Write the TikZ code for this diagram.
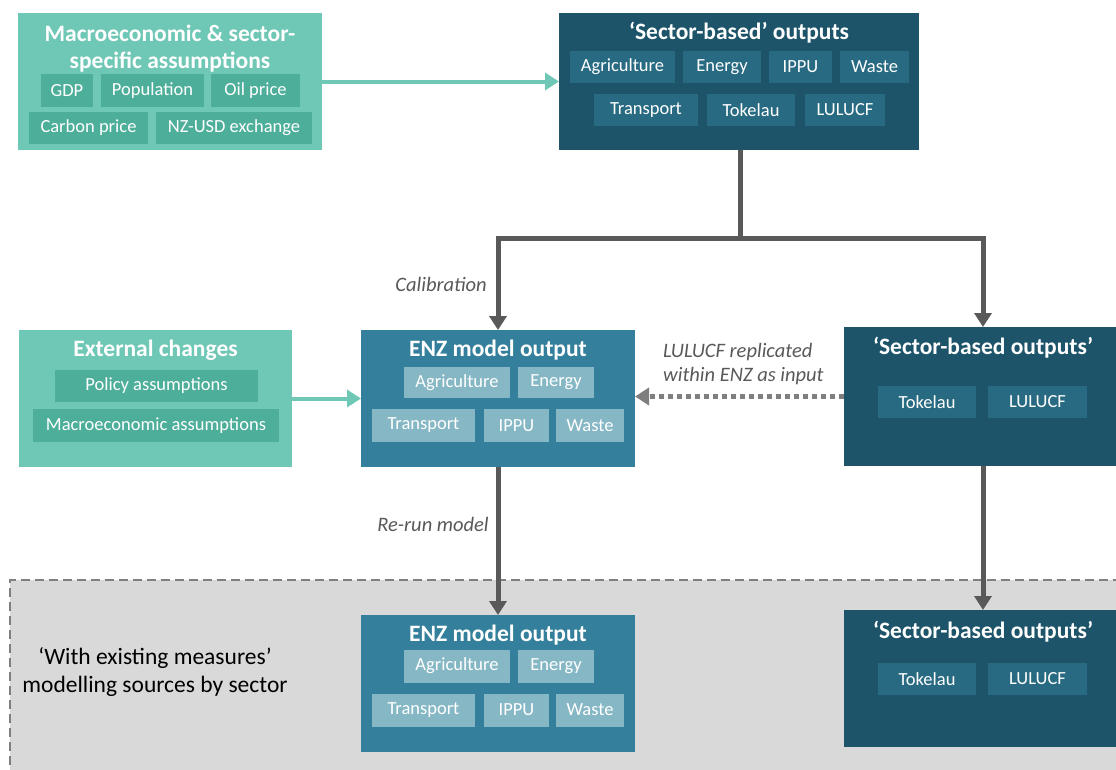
\documentclass[tikz,border=0pt]{standalone}
\usepackage{fontspec}
\setmainfont{Carlito}
\usetikzlibrary{arrows.meta}
\definecolor{tealbox}{HTML}{6FC7B5}
\definecolor{tealsub}{HTML}{4DAE9A}
\definecolor{navybox}{HTML}{1D5469}
\definecolor{navysub}{HTML}{286A82}
\definecolor{enzbox}{HTML}{347F9B}
\definecolor{enzsub}{HTML}{86B7C5}
\definecolor{conngray}{HTML}{595959}
\definecolor{dotgray}{HTML}{7F7F7F}
\definecolor{regionfill}{HTML}{D9D9D9}
\tikzset{
  bigbox/.style={inner sep=0pt, outer sep=0pt},
  subbox/.style={inner sep=0pt, outer sep=0pt, text=white, font=\fontsize{18.5}{22}\selectfont, minimum height=32},
  titletxt/.style={text=white, font=\bfseries\fontsize{23.5}{27}\selectfont, align=center, inner sep=0pt},
  itlabel/.style={text=conngray, font=\itshape\fontsize{20.5}{24}\selectfont, inner sep=0pt},
  tealarrow/.style={draw=tealbox, line width=4pt, -{Triangle[length=14pt,width=17pt]}},
  grayline/.style={draw=conngray, line width=5pt},
  grayarrow/.style={draw=conngray, line width=5pt, -{Triangle[length=14pt,width=17pt]}},
  dotarrow/.style={draw=dotgray, line width=5pt, dash pattern=on 5pt off 4pt, -{Triangle[length=14pt,width=17pt]}},
}
\begin{document}
\begin{tikzpicture}[x=1pt,y=-1pt]
\useasboundingbox (0,0) rectangle (1116,769);
\clip (0,0) rectangle (1116,769);
\fill[white] (0,0) rectangle (1116,769);

% dashed region
\node[draw=dotgray, fill=regionfill, line width=1.6pt, dash pattern=on 9pt off 5pt, inner sep=0pt, minimum width=1130, minimum height=210, anchor=north west] (region) at (9,579) {};
\node[font=\fontsize{23.5}{28}\selectfont, align=center, inner sep=0pt] (regionlabel) at (155,672) {‘With existing measures’\\modelling sources by sector};

% macro box
\node[bigbox, fill=tealbox, minimum width=304, minimum height=137] (mac) at (170,81.5) {};
\node[titletxt] (mactitle) at (170,48.5) {Macroeconomic \& sector-\\specific assumptions};
\node[subbox, fill=tealsub, minimum width=52, minimum height=33] (gdp) at (67,90.5) {GDP};
\node[subbox, fill=tealsub, minimum width=103, minimum height=33] (pop) at (152.5,90.5) {Population};
\node[subbox, fill=tealsub, minimum width=89, minimum height=33] (oil) at (255.5,90.5) {Oil price};
\node[subbox, fill=tealsub, minimum width=119] (carbon) at (88.5,128) {Carbon price};
\node[subbox, fill=tealsub, minimum width=156] (nzusd) at (234,128) {NZ-USD exchange};

% sector top
\node[bigbox, fill=navybox, minimum width=360, minimum height=137] (sec1) at (739,81.5) {};
\node[titletxt] (sec1title) at (739,33) {‘Sector-based’ outputs};
\node[subbox, fill=navysub, minimum width=105] (s1agr) at (622.5,67) {Agriculture};
\node[subbox, fill=navysub, minimum width=78] (s1ene) at (722,67) {Energy};
\node[subbox, fill=navysub, minimum width=63] (s1ipp) at (800.5,67) {IPPU};
\node[subbox, fill=navysub, minimum width=69] (s1was) at (874.5,67) {Waste};
\node[subbox, fill=navysub, minimum width=104] (s1tra) at (646,110) {Transport};
\node[subbox, fill=navysub, minimum width=88] (s1tok) at (751,110) {Tokelau};
\node[subbox, fill=navysub, minimum width=80] (s1lul) at (845,110) {LULUCF};

% external changes
\node[bigbox, fill=tealbox, minimum width=273, minimum height=137] (ext) at (155.5,398.5) {};
\node[titletxt] (exttitle) at (155.5,350) {External changes};
\node[subbox, fill=tealsub, minimum width=203] (policy) at (156.5,386) {Policy assumptions};
\node[subbox, fill=tealsub, minimum width=246, minimum height=33] (macass) at (156,425.5) {Macroeconomic assumptions};

% ENZ mid
\node[bigbox, fill=enzbox, minimum width=274, minimum height=137] (enz1) at (498,398.5) {};
\node[titletxt] (enz1title) at (498,350) {ENZ model output};
\node[subbox, fill=enzsub, minimum width=106, minimum height=31] (e1agr) at (457,382.5) {Agriculture};
\node[subbox, fill=enzsub, minimum width=76, minimum height=31] (e1ene) at (556,382.5) {Energy};
\node[subbox, fill=enzsub, minimum width=103, minimum height=33] (e1tra) at (423.5,425.5) {Transport};
\node[subbox, fill=enzsub, minimum width=65, minimum height=33] (e1ipp) at (516.5,425.5) {IPPU};
\node[subbox, fill=enzsub, minimum width=68, minimum height=33] (e1was) at (590,425.5) {Waste};

% sector mid
\node[bigbox, fill=navybox, minimum width=278, minimum height=139] (sec2) at (983,396.5) {};
\node[titletxt] (sec2title) at (983,348) {‘Sector-based outputs’};
\node[subbox, fill=navysub, minimum width=98] (s2tok) at (927,402) {Tokelau};
\node[subbox, fill=navysub, minimum width=99] (s2lul) at (1037.5,402) {LULUCF};

% ENZ bottom
\node[bigbox, fill=enzbox, minimum width=274, minimum height=137] (enz2) at (498,683.5) {};
\node[titletxt] (enz2title) at (498,635) {ENZ model output};
\node[subbox, fill=enzsub, minimum width=106, minimum height=33] (e2agr) at (457,666) {Agriculture};
\node[subbox, fill=enzsub, minimum width=76, minimum height=33] (e2ene) at (556,666) {Energy};
\node[subbox, fill=enzsub, minimum width=103, minimum height=33] (e2tra) at (423.5,710) {Transport};
\node[subbox, fill=enzsub, minimum width=65, minimum height=33] (e2ipp) at (516.5,710) {IPPU};
\node[subbox, fill=enzsub, minimum width=68, minimum height=33] (e2was) at (590,710) {Waste};

% sector bottom
\node[bigbox, fill=navybox, minimum width=278, minimum height=137] (sec3) at (983,678.5) {};
\node[titletxt] (sec3title) at (983,632) {‘Sector-based outputs’};
\node[subbox, fill=navysub, minimum width=98] (s3tok) at (927,679) {Tokelau};
\node[subbox, fill=navysub, minimum width=99] (s3lul) at (1037.5,679) {LULUCF};

% connectors
\draw[tealarrow] (mac.east) -- (sec1.west);
\draw[tealarrow] (ext.east) -- (enz1.west);
\coordinate (split) at (740,238);
\draw[grayline] (sec1.south -| split) -- (split);
\draw[grayarrow] ([xshift=2.5pt]split) -| (enz1.north);
\draw[grayarrow] ([xshift=-2.5pt]split) -| (sec2.north);
\draw[dotarrow] (sec2.west) -- (sec2.west -| enz1.east);
\draw[grayarrow] (enz1.south) -- (enz2.north);
\draw[grayarrow] (sec2.south) -- (sec3.north);

% labels
\node[itlabel] (calib) at (441,284) {Calibration};
\node[itlabel] (rerun) at (433,524) {Re-run model};
\node[itlabel, align=left, anchor=west] (replic) at (663,364) {LULUCF replicated\\within ENZ as input};
\end{tikzpicture}
\end{document}
